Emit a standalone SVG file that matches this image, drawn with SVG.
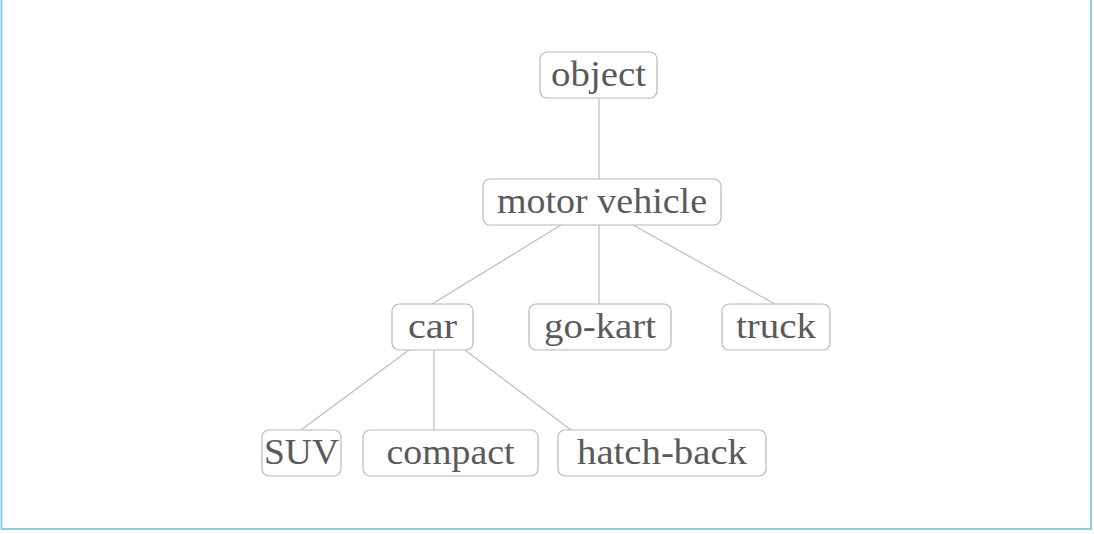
<svg xmlns="http://www.w3.org/2000/svg" width="1094" height="534" viewBox="0 0 1094 534">
<style>
.frame{fill:#fff;stroke:#87cdee;stroke-width:2}
.box{fill:#fff;stroke:#b8b8b8;stroke-width:1.2}
.lbl{font-family:"Liberation Serif","DejaVu Serif",serif;font-size:36px;fill:#5a5a5a;text-anchor:middle;dominant-baseline:central}
.edge{stroke:#bdbdbd;stroke-width:1.2;fill:none}
</style>
<rect class="frame" x="1.5" y="-2" width="1089.5" height="531"/>
<g id="connectors">
<line class="edge" x1="599" y1="98" x2="599" y2="179"/>
<line class="edge" x1="561" y1="225" x2="432" y2="304"/>
<line class="edge" x1="599" y1="225" x2="599" y2="304"/>
<line class="edge" x1="633" y1="225" x2="775" y2="304"/>
<line class="edge" x1="409" y1="350" x2="301" y2="430"/>
<line class="edge" x1="434" y1="350" x2="434" y2="430"/>
<line class="edge" x1="465" y1="350" x2="571" y2="430"/>
</g>
<g id="object"><rect class="box" x="540" y="52" width="117" height="46" rx="7"/><text class="lbl" x="598.5" y="74" textLength="95" lengthAdjust="spacingAndGlyphs">object</text></g>
<g id="motor-vehicle"><rect class="box" x="483" y="179" width="238" height="46" rx="7"/><text class="lbl" x="602" y="201" textLength="210" lengthAdjust="spacingAndGlyphs">motor vehicle</text></g>
<g id="car"><rect class="box" x="392" y="304" width="81" height="46" rx="7"/><text class="lbl" x="432.5" y="326" textLength="49" lengthAdjust="spacingAndGlyphs">car</text></g>
<g id="go-kart"><rect class="box" x="529" y="304" width="142" height="46" rx="7"/><text class="lbl" x="600" y="326" textLength="112" lengthAdjust="spacingAndGlyphs">go-kart</text></g>
<g id="truck"><rect class="box" x="722" y="304" width="108" height="46" rx="7"/><text class="lbl" x="776" y="326" textLength="80" lengthAdjust="spacingAndGlyphs">truck</text></g>
<g id="SUV"><rect class="box" x="262" y="430" width="79" height="46" rx="7"/><text class="lbl" x="301.5" y="452" textLength="75" lengthAdjust="spacingAndGlyphs">SUV</text></g>
<g id="compact"><rect class="box" x="363" y="430" width="175" height="46" rx="7"/><text class="lbl" x="450.5" y="452" textLength="128" lengthAdjust="spacingAndGlyphs">compact</text></g>
<g id="hatch-back"><rect class="box" x="558" y="430" width="208" height="46" rx="7"/><text class="lbl" x="662" y="452" textLength="170" lengthAdjust="spacingAndGlyphs">hatch-back</text></g>
</svg>
